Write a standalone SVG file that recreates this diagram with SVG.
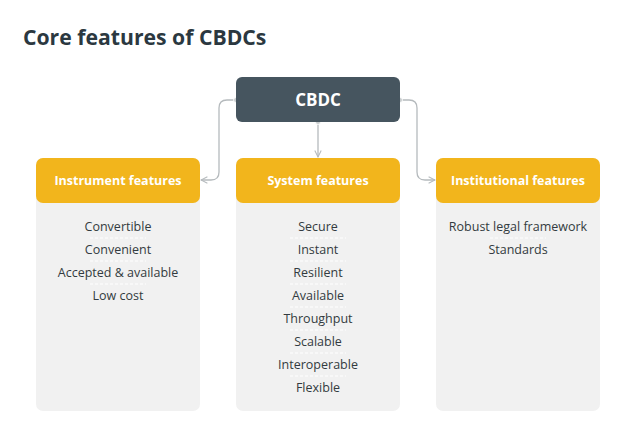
<svg xmlns="http://www.w3.org/2000/svg" width="624" height="421" viewBox="0 0 624 421">
<style>
.title{font-family:"Open Sans","Liberation Sans",sans-serif;font-weight:bold;font-size:21.2px;fill:#2b3840}
.hdr{font-family:"Open Sans","Liberation Sans",sans-serif;font-weight:bold;font-size:12.5px;fill:#ffffff;text-anchor:middle}
.root{font-family:"Open Sans","Liberation Sans",sans-serif;font-weight:bold;font-size:17px;fill:#ffffff;text-anchor:middle}
.item{font-family:"Open Sans","Liberation Sans",sans-serif;font-size:12.5px;fill:#333b40;text-anchor:middle}
.body{fill:#f1f1f1}
.head{fill:#f2b51c}
.sep{stroke:#ffffff;stroke-width:1;stroke-dasharray:3 2}
.conn{fill:none;stroke:#b5babd;stroke-width:1.3}
.dot{fill:#c8ccce;stroke:#ffffff;stroke-width:0.8}
</style>
<defs>
<marker id="arr" viewBox="0 0 10 10" refX="9" refY="5" markerWidth="8" markerHeight="8" markerUnits="userSpaceOnUse" orient="auto">
<path d="M1,1 L9,5 L1,9" fill="none" stroke="#b5babd" stroke-width="1.3"/>
</marker>
</defs>
<rect width="624" height="421" fill="#ffffff"/>
<text class="title" x="23" y="45">Core features of CBDCs</text>

<g id="connectors">
<path class="conn" d="M236,100 H227 Q219,100 219,108 V172 Q219,180 211,180 H201" marker-end="url(#arr)"/>
<path class="conn" d="M318,122 V157" marker-end="url(#arr)"/>
<path class="conn" d="M400,100 H409 Q417,100 417,108 V172 Q417,180 425,180 H435" marker-end="url(#arr)"/>
<circle class="dot" cx="236" cy="100" r="2.5"/>
<circle class="dot" cx="318" cy="122" r="2.5"/>
<circle class="dot" cx="400" cy="100" r="2.5"/>
</g>

<g id="cbdc">
<rect x="236" y="77" width="164" height="45" rx="6" fill="#46555f"/>
<text class="root" x="318" y="106">CBDC</text>
</g>

<g id="instrument">
<rect class="body" x="36" y="158" width="164" height="253" rx="7"/>
<rect class="head" x="36" y="158" width="164" height="45" rx="7"/>
<text class="hdr" x="118" y="185">Instrument features</text>
<text class="item" x="118" y="231">Convertible</text>
<line class="sep" x1="90" y1="238" x2="146" y2="238"/>
<text class="item" x="118" y="254">Convenient</text>
<line class="sep" x1="90" y1="261" x2="146" y2="261"/>
<text class="item" x="118" y="277">Accepted &amp; available</text>
<line class="sep" x1="90" y1="284" x2="146" y2="284"/>
<text class="item" x="118" y="300">Low cost</text>
</g>

<g id="system">
<rect class="body" x="236" y="158" width="164" height="253" rx="7"/>
<rect class="head" x="236" y="158" width="164" height="45" rx="7"/>
<text class="hdr" x="318" y="185">System features</text>
<text class="item" x="318" y="231">Secure</text>
<line class="sep" x1="290" y1="238" x2="346" y2="238"/>
<text class="item" x="318" y="254">Instant</text>
<line class="sep" x1="290" y1="261" x2="346" y2="261"/>
<text class="item" x="318" y="277">Resilient</text>
<line class="sep" x1="290" y1="284" x2="346" y2="284"/>
<text class="item" x="318" y="300">Available</text>
<line class="sep" x1="290" y1="307" x2="346" y2="307"/>
<text class="item" x="318" y="323">Throughput</text>
<line class="sep" x1="290" y1="330" x2="346" y2="330"/>
<text class="item" x="318" y="346">Scalable</text>
<line class="sep" x1="290" y1="353" x2="346" y2="353"/>
<text class="item" x="318" y="369">Interoperable</text>
<line class="sep" x1="290" y1="376" x2="346" y2="376"/>
<text class="item" x="318" y="392">Flexible</text>
</g>

<g id="institutional">
<rect class="body" x="436" y="158" width="164" height="253" rx="7"/>
<rect class="head" x="436" y="158" width="164" height="45" rx="7"/>
<text class="hdr" x="518" y="185">Institutional features</text>
<text class="item" x="518" y="231">Robust legal framework</text>
<line class="sep" x1="490" y1="238" x2="546" y2="238"/>
<text class="item" x="518" y="254">Standards</text>
</g>
</svg>
